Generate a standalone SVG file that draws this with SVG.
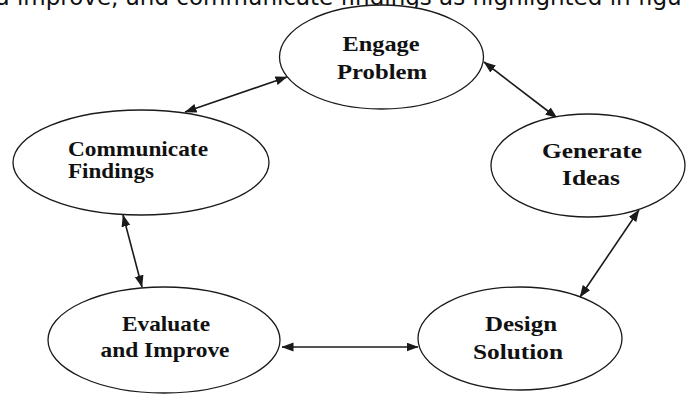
<svg xmlns="http://www.w3.org/2000/svg" width="686" height="394" viewBox="0 0 686 394">
  <style>
    .node ellipse { fill: #ffffff; stroke: #1a1a1a; stroke-width: 1.3; }
    .node text { font-family: "Liberation Serif", "Times New Roman", serif; font-weight: bold; font-size: 21px; fill: #111111; }
    .conn line { stroke: #1a1a1a; stroke-width: 1.6; marker-start: url(#ah); marker-end: url(#ah); }
    .caption { font-family: "DejaVu Sans", Verdana, sans-serif; font-size: 23px; fill: #111111; }
  </style>
  <defs>
    <marker id="ah" markerUnits="userSpaceOnUse" markerWidth="12" markerHeight="10" refX="11.5" refY="4.5" orient="auto-start-reverse">
      <path d="M0,0 L12,4.5 L0,9 z" fill="#1a1a1a"/>
    </marker>
  </defs>
  <rect x="0" y="0" width="686" height="394" fill="#ffffff"/>

  <text class="caption" x="-5" y="4.5">d improve, and communicate findings as highlighted in figu</text>

  <g id="connectors" class="conn">
    <line x1="185" y1="112" x2="287" y2="77"/>
    <line x1="484" y1="62" x2="557" y2="118"/>
    <line x1="639" y1="210" x2="580" y2="297"/>
    <line x1="282" y1="347" x2="418" y2="347"/>
    <line x1="123" y1="215" x2="142" y2="287"/>
  </g>

  <g id="engage-problem" class="node">
    <ellipse cx="381.5" cy="57" rx="102" ry="52"/>
    <text x="381" y="50.5" text-anchor="middle" textLength="77" lengthAdjust="spacingAndGlyphs">Engage</text>
    <text x="382" y="79" text-anchor="middle" textLength="90" lengthAdjust="spacingAndGlyphs">Problem</text>
  </g>

  <g id="communicate-findings" class="node">
    <ellipse cx="141" cy="162.5" rx="128" ry="52.5"/>
    <text x="68" y="156" textLength="140" lengthAdjust="spacingAndGlyphs">Communicate</text>
    <text x="68" y="178" textLength="86" lengthAdjust="spacingAndGlyphs">Findings</text>
  </g>

  <g id="generate-ideas" class="node">
    <ellipse cx="588" cy="165.5" rx="97" ry="51.5"/>
    <text x="592" y="158" text-anchor="middle" textLength="100" lengthAdjust="spacingAndGlyphs">Generate</text>
    <text x="591" y="185" text-anchor="middle" textLength="58" lengthAdjust="spacingAndGlyphs">Ideas</text>
  </g>

  <g id="evaluate-improve" class="node">
    <ellipse cx="164" cy="340" rx="116" ry="53"/>
    <text x="166" y="331" text-anchor="middle" textLength="88" lengthAdjust="spacingAndGlyphs">Evaluate</text>
    <text x="165" y="357" text-anchor="middle" textLength="129" lengthAdjust="spacingAndGlyphs">and Improve</text>
  </g>

  <g id="design-solution" class="node">
    <ellipse cx="520" cy="338.5" rx="102" ry="51.5"/>
    <text x="521" y="331" text-anchor="middle" textLength="72" lengthAdjust="spacingAndGlyphs">Design</text>
    <text x="518" y="359" text-anchor="middle" textLength="90" lengthAdjust="spacingAndGlyphs">Solution</text>
  </g>
</svg>
